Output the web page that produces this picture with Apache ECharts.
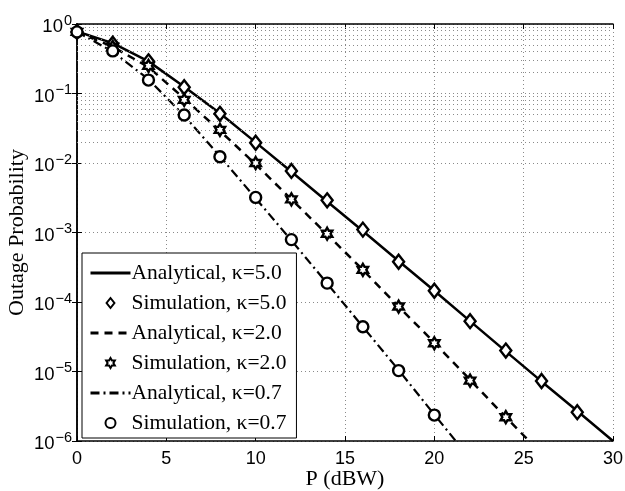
<!DOCTYPE html>
<html>
<head>
<meta charset="utf-8">
<script src="https://cdn.jsdelivr.net/npm/echarts@6/dist/echarts.min.js"></script>
<style>
html, body { margin: 0; padding: 0; background: #fff; }
#chart { width: 625px; height: 491px; }
</style>
</head>
<body>
<div id="chart"></div>
<script>
// simulation points (every 2 dBW)
var simX5 = [0, 2, 4, 6, 8, 10, 12, 14, 16, 18, 20, 22, 24, 26, 28];
var sim5 = [0.77, 0.52, 0.29, 0.123, 0.051, 0.0196, 0.0077, 0.0029, 0.0011, 3.8e-4, 1.45e-4, 5.3e-5, 2.0e-5, 7.3e-6, 2.6e-6];
var simX2 = [0, 2, 4, 6, 8, 10, 12, 14, 16, 18, 20, 22, 24];
var sim2 = [0.77, 0.47, 0.25, 0.081, 0.030, 0.010, 0.0030, 9.6e-4, 2.9e-4, 8.6e-5, 2.55e-5, 7.4e-6, 2.2e-6];
var simX07 = [0, 2, 4, 6, 8, 10, 12, 14, 16, 18, 20];
var sim07 = [0.77, 0.41, 0.156, 0.049, 0.0123, 0.0032, 7.9e-4, 1.87e-4, 4.4e-5, 1.03e-5, 2.36e-6];

// analytical curves
var anaX5 = [0, 2, 4, 6, 8, 10, 12, 14, 16, 18, 20, 22, 24, 26, 28, 30];
var ana5 = [0.78, 0.53, 0.29, 0.125, 0.052, 0.0198, 0.0075, 0.0028, 0.00105, 3.9e-4, 1.45e-4, 5.3e-5, 1.95e-5, 7.2e-6, 2.7e-6, 1.0e-6];
var anaX2 = [0, 2, 4, 6, 8, 10, 12, 14, 16, 18, 20, 22, 24, 25.3];
var ana2 = [0.77, 0.47, 0.24, 0.085, 0.029, 0.0096, 0.0030, 9.4e-4, 2.9e-4, 8.6e-5, 2.6e-5, 7.6e-6, 2.2e-6, 1.0e-6];
var anaX07 = [0, 2, 4, 6, 8, 10, 12, 14, 16, 18, 20, 21.2];
var ana07 = [0.77, 0.40, 0.16, 0.048, 0.0125, 0.0031, 7.7e-4, 1.85e-4, 4.4e-5, 1.05e-5, 2.4e-6, 1.0e-6];

var names = ['Analytical, κ=5.0', 'Simulation, κ=5.0', 'Analytical, κ=2.0',
             'Simulation, κ=2.0', 'Analytical, κ=0.7', 'Simulation, κ=0.7'];

function pairs(xs, ys) {
    return xs.map(function (x, i) { return [x, ys[i]]; });
}

// minor grid lines at 2..9 x 10^n
var minorLines = [];
for (var e = -6; e < 0; e++) {
    for (var m = 2; m <= 9; m++) {
        minorLines.push({ yAxis: m * Math.pow(10, e) });
    }
}

var hexagram = 'path://M0,-10 L2.9,-5 L8.66,-5 L5.77,0 L8.66,5 L2.9,5 L0,10 L-2.9,5 L-8.66,5 L-5.77,0 L-8.66,-5 L-2.9,-5 Z';
var diamond = 'path://M0,-7 L5.5,0 L0,7 L-5.5,0 Z';
var sans = 'Liberation Sans';
var serif = 'Liberation Serif';
var gridLine = { show: true, lineStyle: { color: '#8a8a8a', width: 1, type: [1, 3] } };
var hideSym = { opacity: 0 };

var myChart = echarts.init(document.getElementById('chart'));
var option = {
    backgroundColor: '#fff',
    animation: false,
    grid: { left: 77, right: 12, top: 24, bottom: 50, outerBoundsMode: 'none', containLabel: false },
    legend: {
        orient: 'vertical',
        left: 82,
        top: 253,
        backgroundColor: '#fff',
        borderColor: '#000',
        borderWidth: 1,
        borderRadius: 0,
        padding: [9, 10, 4, 7],
        itemWidth: 40,
        itemHeight: 10,
        itemGap: 8,
        lineStyle: { width: 3 },
        textStyle: { fontFamily: serif, fontSize: 21.5, color: '#000', padding: [0, 0, 0, -4] },
        data: [
            { name: names[0], itemStyle: hideSym },
            { name: names[1] },
            { name: names[2], itemStyle: hideSym },
            { name: names[3] },
            { name: names[4], itemStyle: hideSym },
            { name: names[5] }
        ]
    },
    xAxis: [{
        type: 'value',
        min: 0, max: 30, interval: 5,
        name: 'P (dBW)',
        nameLocation: 'middle',
        nameGap: 27,
        nameMoveOverlap: false,
        nameTextStyle: { fontFamily: serif, fontSize: 22, color: '#000' },
        axisLine: { lineStyle: { color: '#000', width: 1.5 } },
        axisTick: { inside: true, length: 5, lineStyle: { color: '#000' } },
        axisLabel: { fontFamily: sans, fontSize: 18, color: '#000', margin: 9 },
        splitLine: gridLine
    }, {
        type: 'value',
        position: 'top',
        min: 0, max: 30, interval: 5,
        axisLine: { lineStyle: { color: '#000', width: 1.5 } },
        axisTick: { inside: true, length: 5, lineStyle: { color: '#000' } },
        axisLabel: { show: false },
        splitLine: { show: false }
    }],
    yAxis: [{
        type: 'log',
        logBase: 10,
        min: 1e-6, max: 1, interval: 1,
        name: 'Outage Probability',
        nameLocation: 'middle',
        nameGap: 49,
        nameMoveOverlap: false,
        nameTextStyle: { fontFamily: serif, fontSize: 22, color: '#000' },
        axisLine: { lineStyle: { color: '#000', width: 1.5 } },
        axisTick: { inside: true, length: 5, lineStyle: { color: '#000' } },
        axisLabel: {
            margin: 5,
            formatter: function (v) {
                var p = Math.round(Math.log10(v));
                return '{b|10}{s|' + (p === 0 ? '0' : '\u2212' + (-p)) + '}';
            },
            rich: {
                b: { fontFamily: sans, fontSize: 18.5, color: '#000', lineHeight: 20, verticalAlign: 'middle', padding: [6, 0, 0, 0] },
                s: { fontFamily: sans, fontSize: 14.5, color: '#000', lineHeight: 15, verticalAlign: 'middle', padding: [0, 0, 7, 1] }
            }
        },
        splitLine: gridLine
    }, {
        type: 'log',
        logBase: 10,
        position: 'right',
        min: 1e-6, max: 1, interval: 1,
        axisLine: { lineStyle: { color: '#000', width: 1.5 } },
        axisTick: { inside: true, length: 5, lineStyle: { color: '#000' } },
        axisLabel: { show: false },
        splitLine: { show: false }
    }],
    series: [
        {
            name: 'grid',
            type: 'line',
            data: [],
            silent: true,
            markLine: {
                silent: true,
                symbol: 'none',
                label: { show: false },
                lineStyle: { color: '#8a8a8a', width: 1, type: [1, 3] },
                data: minorLines
            }
        },
        {
            name: names[0], type: 'line', data: pairs(anaX5, ana5),
            symbol: 'none', z: 3,
            lineStyle: { color: '#000', width: 2.5, type: 'solid' },
            itemStyle: { color: '#000' }
        },
        {
            name: names[1], type: 'scatter', data: pairs(simX5, sim5),
            symbol: diamond, symbolSize: 14, symbolKeepAspect: true, z: 5,
            itemStyle: { color: '#fff', borderColor: '#000', borderWidth: 2.4, opacity: 1 }
        },
        {
            name: names[2], type: 'line', data: pairs(anaX2, ana2),
            symbol: 'none', z: 3,
            lineStyle: { color: '#000', width: 2.5, type: [8, 6] },
            itemStyle: { color: '#000' }
        },
        {
            name: names[3], type: 'scatter', data: pairs(simX2, sim2),
            symbol: hexagram, symbolSize: 12, symbolKeepAspect: true, z: 5,
            itemStyle: { color: '#fff', borderColor: '#000', borderWidth: 2.4, opacity: 1 }
        },
        {
            name: names[4], type: 'line', data: pairs(anaX07, ana07),
            symbol: 'none', z: 3,
            lineStyle: { color: '#000', width: 2.2, type: [9, 4, 2, 4] },
            itemStyle: { color: '#000' }
        },
        {
            name: names[5], type: 'scatter', data: pairs(simX07, sim07),
            symbol: 'circle', symbolSize: 11, z: 5,
            itemStyle: { color: '#fff', borderColor: '#000', borderWidth: 2.4, opacity: 1 }
        }
    ]
};
myChart.setOption(option);
</script>
</body>
</html>
